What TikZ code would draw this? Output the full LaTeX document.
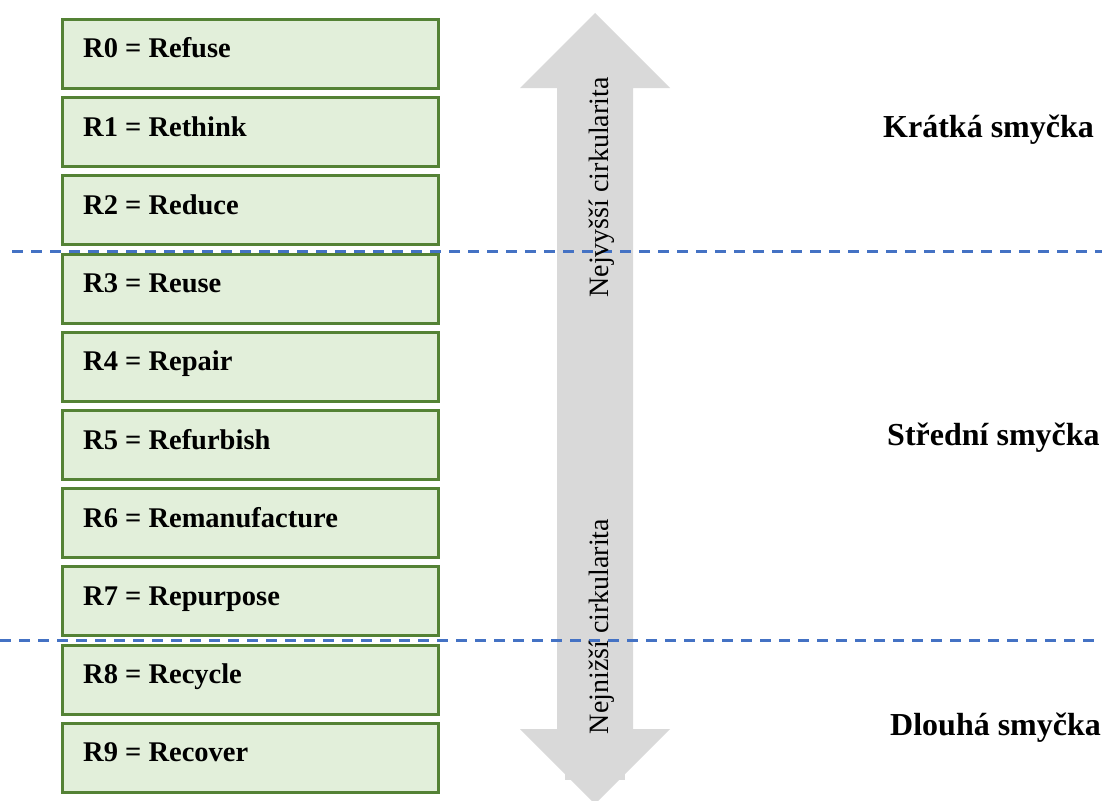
\documentclass[tikz,border=0pt]{standalone}
\usepackage{fontspec}
\setmainfont{Liberation Serif}
\definecolor{boxfill}{HTML}{E2EFDA}
\definecolor{boxline}{HTML}{548235}
\definecolor{arrowgray}{HTML}{D9D9D9}
\definecolor{splitblue}{HTML}{4472C4}
\tikzset{
  rbox/.style={draw=boxline, line width=3pt, fill=boxfill, minimum width=376pt,
    minimum height=69pt, inner sep=0pt, anchor=north west},
  rlabel/.style={font=\fontsize{28.5}{30}\selectfont\bfseries, anchor=base west, inner sep=0pt},
  looplabel/.style={font=\fontsize{32}{34}\selectfont\bfseries, anchor=base west, inner sep=0pt},
  axislabel/.style={font=\fontsize{28}{30}\selectfont, rotate=90, anchor=base, inner sep=0pt},
  splitline/.style={draw=splitblue, line width=3pt, dash pattern=on 11pt off 8pt},
}
\begin{document}
\begin{tikzpicture}[x=1pt, y=-1pt]
\useasboundingbox (0,0) rectangle (1102,800);

% double-headed gray arrow
\fill[arrowgray] (595,13) -- (670,88) -- (633,88) -- (633,729) -- (670,729)
  -- (595,804) -- (520,729) -- (557,729) -- (557,88) -- (520,88) -- cycle;
\fill[arrowgray] (565,729) rectangle (625,780);

% R-strategy boxes
\foreach \i/\t in {0/Refuse,1/Rethink,2/Reduce,3/Reuse,4/Repair,5/Refurbish,
                   6/Remanufacture,7/Repurpose,8/Recycle,9/Recover}{
  \node[rbox] (b\i) at (61,{18+78.2*\i}) {};
  \node[rlabel] (l\i) at (83,{58+78.2*\i}) {R\i\ = \t};
}

% loop boundaries
\coordinate (s1a) at (12,251);
\coordinate (s1b) at (1102,251);
\coordinate (s2a) at (0,640);
\coordinate (s2b) at (1102,640);
\draw[splitline] (s1a) -- (s1b);
\draw[splitline] (s2a) -- (s2b);

% axis labels inside the arrow
\node[axislabel] (hi) at (608,187.5) {Nejvyšší cirkularita};
\node[axislabel] (lo) at (608,626.5) {Nejnižší cirkularita};

% loop names
\node[looplabel] (short) at (883,137) {Krátká smyčka};
\node[looplabel] (mid) at (887,445) {Střední smyčka};
\node[looplabel] (long) at (890,735) {Dlouhá smyčka};
\end{tikzpicture}
\end{document}
